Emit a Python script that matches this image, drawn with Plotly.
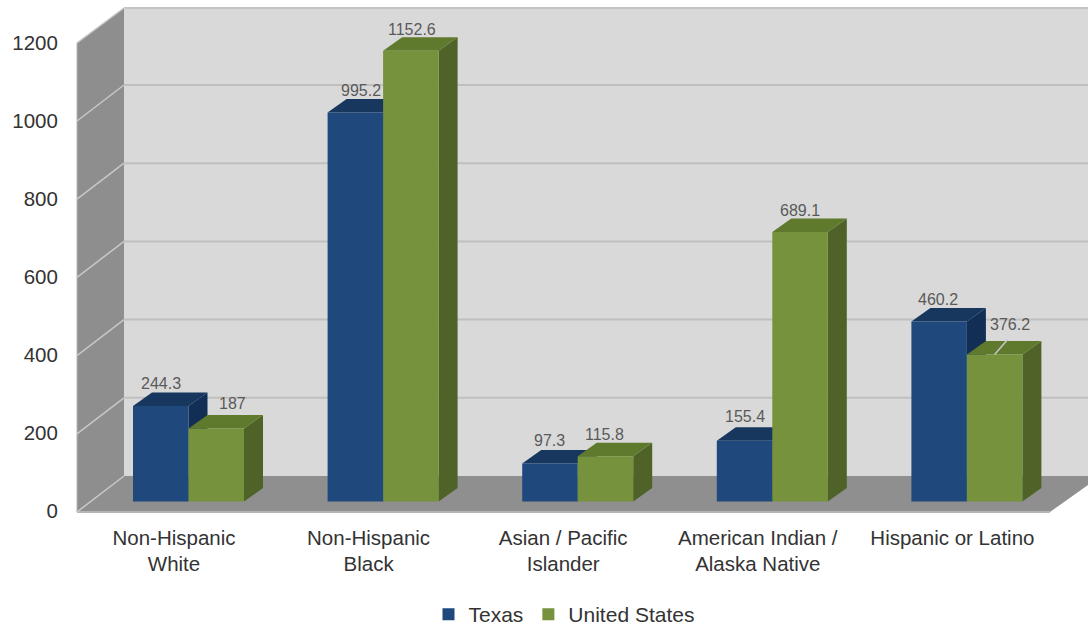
import plotly.graph_objects as go

categories = ["Non-Hispanic<br>White", "Non-Hispanic<br>Black", "Asian / Pacific<br>Islander",
              "American Indian /<br>Alaska Native", "Hispanic or Latino"]
texas = [244.3, 995.2, 97.3, 155.4, 460.2]
united_states = [187, 1152.6, 115.8, 689.1, 376.2]
y_ticks = [0, 200, 400, 600, 800, 1000, 1200]

# ---- frame geometry (pixels of the 1088x625 page) ----
W, H = 1088, 625
PL, PR, PT, PB = 77, 1088, 8, 512       # plot rectangle
BACK_X, BACK_Y0 = 124, 476              # back wall left edge / zero line
FRONT_Y0 = 512
SCALE = 0.391                           # px per unit
CAT_STEP = 194.6                        # px per category
BAR_C0 = 188.5                          # px of first bar group centre
LAB_C0 = 174.0                          # px of first category label
BAR_Y0 = 501.5                          # px of bar base
BAR_W = 55.5 / CAT_STEP                 # one bar width in x units
DX, DY = 19 / CAT_STEP, 13.5 / SCALE    # bar depth in data units

px = lambda x: (x - PL) / (PR - PL)
py = lambda y: (PB - y) / (PB - PT)


def poly(points, color):
    path = "M" + " L".join(f"{px(x):.5f},{py(y):.5f}" for x, y in points) + " Z"
    return dict(type="path", path=path, xref="paper", yref="paper", fillcolor=color,
                line=dict(width=0), layer="below")


def seg(x0, y0, x1, y1, color, w=2):
    return dict(type="line", xref="paper", yref="paper", x0=px(x0), y0=py(y0), x1=px(x1), y1=py(y1),
                line=dict(color=color, width=w), layer="below")


shapes = [
    poly([(BACK_X, 8), (W, 8), (W, BACK_Y0), (BACK_X, BACK_Y0)], "#d9d9d9"),
    poly([(PL, 43), (BACK_X, 8), (BACK_X, BACK_Y0), (PL, FRONT_Y0)], "#8e8e8e"),
    poly([(PL, FRONT_Y0), (BACK_X, BACK_Y0), (W, BACK_Y0), (W, 485), (1050, FRONT_Y0)], "#8f8f8f"),
    seg(BACK_X, 8, W, 8, "#c4c4c4"),
    seg(BACK_X, 8, PL, 43, "#c4c4c4", 1.5),
    seg(PL, FRONT_Y0, 1050, FRONT_Y0, "#b5b5b5"),
    seg(PL, 43, PL, FRONT_Y0, "#b5b5b5", 1),
]
for t in y_ticks[1:-1]:
    yb = BACK_Y0 - t * SCALE
    shapes.append(seg(BACK_X, yb, W, yb, "#bfbfbf"))
    shapes.append(seg(BACK_X, yb, PL, yb + 36, "#c8c8c8", 1.5))
shapes.append(seg(BACK_X, BACK_Y0, PL, FRONT_Y0, "#c8c8c8", 1.5))


def faces(i, values, first_bar, top_col, side_col):
    """Top and side faces of a bar, in data coordinates."""
    v = values[i]
    x0 = i - BAR_W if first_bar else i
    x1 = x0 + BAR_W
    top = f"M{x0},{v} L{x1},{v} L{x1 + DX},{v + DY} L{x0 + DX},{v + DY} Z"
    side = f"M{x1},0 L{x1 + DX},{DY} L{x1 + DX},{v + DY} L{x1},{v} Z"
    return [dict(type="path", path=p, xref="x", yref="y", fillcolor=c, line=dict(width=0), layer="below")
            for p, c in ((side, side_col), (top, top_col))]


for i in range(len(categories)):
    shapes += faces(i, texas, True, "#17375e", "#122e54")
for i in range(len(categories)):
    shapes += faces(i, united_states, False, "#5f7a2d", "#4f6228")

# label offsets in pixels (xshift, yshift) from the bar's top centre
tx_nudge = [(0, 22), (6, 22), (0, 23), (0, 24), (-1, 22)]
us_nudge = [(16, 25), (1, 21), (-1, 22), (0, 22), (15, 30)]

annotations = []
for values, nudge, sign in ((texas, tx_nudge, -0.5), (united_states, us_nudge, 0.5)):
    for i, v in enumerate(values):
        annotations.append(dict(x=i + sign * BAR_W, y=v, xref="x", yref="y", text=str(v), showarrow=False,
                                xshift=nudge[i][0], yshift=nudge[i][1], yanchor="middle",
                                font=dict(family="Liberation Sans", size=16, color="#595959")))

# leader line of the last US label
lv = united_states[4]
lx = 4 + 0.5 * BAR_W
shapes.append(dict(type="line", xref="x", yref="y", x0=lx, y0=lv, x1=lx + 13 / CAT_STEP, y1=lv + 15 / SCALE,
                   line=dict(color="#c8c8c8", width=1.5), layer="above"))

idx = list(range(len(categories)))
fig = go.Figure()
fig.add_bar(name="Texas", x=idx, y=texas, marker=dict(color="#1f497d", line=dict(width=0)))
fig.add_bar(name="United States", x=idx, y=united_states, marker=dict(color="#76923c", line=dict(width=0)))
fig.add_scatter(x=[None], y=[None], xaxis="x2", yaxis="y2", showlegend=False, hoverinfo="skip")

font = dict(family="Liberation Sans", size=20.5, color="#333333")
font_cat = dict(family="Liberation Sans", size=20.5, color="#333333")
fig.update_layout(
    width=W, height=H, autosize=False,
    margin=dict(l=PL, r=W - PR, t=PT, b=H - PB, pad=0, autoexpand=False),
    paper_bgcolor="white", plot_bgcolor="rgba(0,0,0,0)",
    barmode="group", bargap=1 - 2 * BAR_W, bargroupgap=0,
    shapes=shapes, annotations=annotations, font=font,
    legend=dict(orientation="h", x=px(564), xanchor="center", y=py(594), yanchor="top",
                font=dict(family="Liberation Sans", size=21, color="#333333"), bgcolor="rgba(0,0,0,0)"),
    xaxis=dict(visible=False, range=[(PL - BAR_C0) / CAT_STEP, (PR - BAR_C0) / CAT_STEP], fixedrange=True),
    yaxis=dict(visible=False, range=[(BAR_Y0 - PB) / SCALE, (BAR_Y0 - PT) / SCALE], fixedrange=True),
    xaxis2=dict(overlaying="x", anchor="y2", side="bottom", showgrid=False, zeroline=False, showline=False,
                range=[(PL - LAB_C0) / CAT_STEP, (PR - LAB_C0) / CAT_STEP], fixedrange=True,
                tickmode="array", tickvals=idx, ticktext=categories, tickangle=0,
                ticks="outside", ticklen=7, tickcolor="rgba(0,0,0,0)", tickfont=font_cat),
    yaxis2=dict(overlaying="y", anchor="x2", side="left", showgrid=False, zeroline=False, showline=False,
                range=[(511 - PB) / 0.39, (511 - PT) / 0.39], fixedrange=True,
                tickmode="array", tickvals=y_ticks, ticks="outside", ticklen=14,
                tickcolor="rgba(0,0,0,0)", tickfont=font),
)
fig.write_html("out.html", config={"displayModeBar": False},
               post_script="document.body.style.margin='0';document.documentElement.style.overflow='hidden';")
